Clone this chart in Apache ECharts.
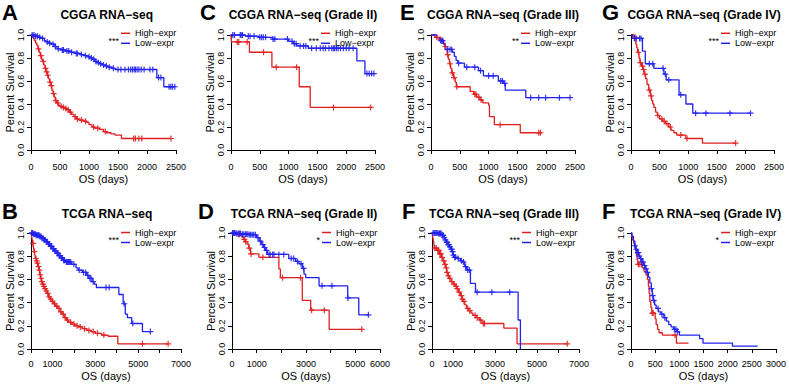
<!DOCTYPE html>
<html><head><meta charset="utf-8">
<script src="https://cdn.jsdelivr.net/npm/echarts@6/dist/echarts.min.js"></script>
<style>html,body{margin:0;padding:0;background:#fff}#c{width:789px;height:384px}</style>
</head><body><div id="c"></div>
<script>
// ---------- DATA (days, survival) ----------
const seriesNames = ['High−expr', 'Low−expr'];

// A: CGGA RNA-seq
const aHighSteps = [[0,1],[20,0.99],[40,0.97],[60,0.95],[80,0.93],[100,0.91],[120,0.88],[140,0.85],[160,0.82],[180,0.79],[200,0.77],[220,0.74],[240,0.71],[260,0.68],[280,0.65],[300,0.62],[320,0.59],[340,0.56],[360,0.52],[380,0.49],[400,0.46],[420,0.43],[440,0.41],[470,0.39],[500,0.38],[540,0.37],[580,0.36],[620,0.35],[660,0.33],[700,0.31],[740,0.29],[780,0.27],[830,0.26],[900,0.25],[960,0.24],[1000,0.22],[1050,0.2],[1100,0.19],[1180,0.18],[1250,0.16],[1300,0.15],[1380,0.14],[1450,0.13],[1560,0.1],[2414,0.1]];
const aHighCens = [[130,0.88],[170,0.82],[210,0.77],[250,0.71],[270,0.68],[290,0.65],[330,0.59],[350,0.56],[390,0.49],[430,0.43],[460,0.41],[520,0.38],[560,0.37],[600,0.36],[640,0.35],[680,0.33],[760,0.29],[800,0.27],[870,0.26],[940,0.25],[1080,0.2],[1150,0.19],[1280,0.16],[1770,0.1],[1800,0.1],[1860,0.1],[1910,0.1],[2414,0.1]];
const aLowSteps = [[0,1],[60,0.99],[130,0.98],[180,0.97],[230,0.95],[260,0.94],[300,0.93],[350,0.92],[400,0.9],[450,0.88],[520,0.87],[600,0.86],[680,0.85],[760,0.84],[850,0.83],[920,0.82],[980,0.81],[1020,0.8],[1060,0.79],[1100,0.77],[1140,0.76],[1180,0.75],[1230,0.74],[1280,0.73],[1330,0.72],[1400,0.71],[1450,0.7],[2170,0.63],[2290,0.55],[2480,0.55]];
const aLowCens = [[20,1],[50,1],[80,0.99],[110,0.99],[150,0.98],[200,0.97],[280,0.94],[320,0.93],[380,0.92],[420,0.9],[470,0.88],[540,0.87],[560,0.87],[620,0.86],[650,0.86],[700,0.85],[780,0.84],[800,0.84],[870,0.83],[940,0.82],[1000,0.81],[1040,0.8],[1080,0.79],[1120,0.77],[1160,0.76],[1200,0.75],[1250,0.74],[1300,0.73],[1350,0.72],[1420,0.71],[1500,0.7],[1550,0.7],[1620,0.7],[1680,0.7],[1720,0.7],[1750,0.7],[1780,0.7],[1800,0.7],[1830,0.7],[1860,0.7],[1900,0.7],[1950,0.7],[2050,0.7],[2100,0.7],[2200,0.63],[2240,0.63],[2380,0.55],[2410,0.55],[2440,0.55],[2480,0.55]];

// C: CGGA RNA-seq (Grade II)
const cHighSteps = [[0,1],[8,0.94],[320,0.85],[710,0.72],[1185,0.55],[1375,0.37],[2425,0.37]];
const cHighCens = [[110,0.94],[135,0.94],[280,0.94],[565,0.85],[785,0.72],[1140,0.72],[1780,0.37],[2425,0.37]];
const cLowSteps = [[0,1],[250,0.99],[480,0.98],[720,0.965],[1000,0.945],[1080,0.925],[1140,0.905],[1340,0.885],[2185,0.775],[2325,0.665],[2480,0.665]];
const cLowCens = [[30,1],[60,1],[160,1],[175,1],[200,1],[300,0.99],[330,0.99],[400,0.99],[500,0.98],[530,0.98],[560,0.98],[600,0.98],[730,0.965],[760,0.965],[980,0.965],[1060,0.945],[1100,0.925],[1130,0.925],[1200,0.905],[1260,0.905],[1300,0.905],[1400,0.885],[1480,0.885],[1550,0.885],[1600,0.885],[1640,0.885],[1700,0.885],[1750,0.885],[1780,0.885],[1800,0.885],[1830,0.885],[1860,0.885],[1900,0.885],[1950,0.885],[2000,0.885],[2050,0.885],[2120,0.885],[2360,0.665],[2400,0.665],[2440,0.665],[2480,0.665]];

// E: CGGA RNA-seq (Grade III)
const eHighSteps = [[0,1],[70,0.98],[150,0.96],[200,0.93],[240,0.9],[260,0.87],[280,0.83],[300,0.79],[320,0.75],[340,0.71],[360,0.67],[390,0.63],[420,0.59],[440,0.55],[680,0.51],[740,0.485],[790,0.46],[850,0.435],[900,0.41],[1000,0.39],[1015,0.29],[1100,0.22],[1550,0.15],[1920,0.15]];
const eHighCens = [[100,0.98],[170,0.96],[250,0.9],[290,0.83],[330,0.75],[370,0.67],[400,0.63],[450,0.55],[760,0.485],[780,0.485],[830,0.46],[870,0.435],[1200,0.22],[1870,0.15],[1900,0.15]];
const eLowSteps = [[0,1],[100,0.975],[160,0.95],[215,0.92],[245,0.875],[370,0.85],[405,0.815],[435,0.78],[465,0.755],[580,0.72],[825,0.69],[910,0.645],[1170,0.6],[1255,0.58],[1290,0.52],[1645,0.455],[2415,0.455]];
const eLowCens = [[170,0.95],[190,0.95],[205,0.95],[290,0.875],[330,0.875],[360,0.875],[480,0.755],[620,0.72],[760,0.72],[860,0.69],[1000,0.645],[1080,0.645],[1210,0.6],[1240,0.6],[1280,0.58],[1730,0.455],[1870,0.455],[1990,0.455],[2230,0.455],[2415,0.455]];

// G: CGGA RNA-seq (Grade IV)
const gHighSteps = [[0,1],[55,0.98],[85,0.92],[100,0.89],[115,0.85],[140,0.8],[155,0.76],[185,0.73],[205,0.7],[230,0.66],[255,0.62],[280,0.57],[310,0.52],[340,0.47],[360,0.43],[380,0.4],[400,0.37],[430,0.33],[460,0.3],[500,0.27],[550,0.25],[600,0.23],[660,0.2],[700,0.17],[750,0.15],[800,0.13],[960,0.1],[1250,0.06],[1830,0.06]];
const gHighCens = [[70,0.98],[130,0.85],[165,0.76],[200,0.73],[220,0.7],[245,0.66],[320,0.52],[350,0.47],[470,0.3],[540,0.27],[580,0.25],[630,0.23],[690,0.2],[870,0.13],[980,0.1],[1830,0.06]];
const gLowSteps = [[0,1],[30,0.97],[200,0.86],[250,0.75],[400,0.71],[575,0.66],[615,0.61],[840,0.48],[960,0.4],[1080,0.32],[2090,0.32]];
const gLowCens = [[60,0.97],[90,0.97],[150,0.97],[175,0.97],[320,0.75],[380,0.75],[560,0.71],[600,0.66],[660,0.61],[870,0.48],[1130,0.32],[1310,0.32],[1730,0.32],[2090,0.32]];

// B: TCGA RNA-seq
const bHighSteps = [[0,1],[30,0.97],[60,0.94],[90,0.91],[120,0.87],[150,0.84],[180,0.81],[210,0.78],[250,0.76],[290,0.74],[330,0.71],[370,0.68],[410,0.64],[450,0.61],[490,0.58],[530,0.56],[580,0.54],[630,0.52],[690,0.5],[750,0.48],[820,0.45],[900,0.43],[980,0.41],[1060,0.39],[1150,0.37],[1250,0.35],[1350,0.32],[1450,0.3],[1550,0.27],[1650,0.25],[1760,0.23],[1900,0.215],[2050,0.2],[2200,0.19],[2400,0.175],[2600,0.16],[2800,0.15],[3000,0.135],[3300,0.12],[3600,0.11],[4050,0.045],[6400,0.045]];
const bHighCens = [[100,0.91],[160,0.84],[230,0.78],[270,0.76],[300,0.74],[350,0.71],[390,0.68],[430,0.64],[470,0.61],[510,0.58],[560,0.56],[600,0.54],[660,0.52],[720,0.5],[780,0.48],[850,0.45],[920,0.43],[1000,0.41],[1100,0.39],[1200,0.37],[1300,0.35],[1400,0.32],[1500,0.3],[1600,0.27],[1700,0.25],[1850,0.23],[2000,0.215],[2150,0.2],[2300,0.19],[2500,0.175],[2700,0.16],[2900,0.15],[3100,0.135],[3400,0.12],[5200,0.045],[6400,0.045]];
const bLowSteps = [[0,1],[100,0.99],[250,0.98],[400,0.97],[500,0.955],[600,0.94],[700,0.925],[800,0.905],[900,0.885],[1000,0.865],[1100,0.845],[1200,0.825],[1300,0.805],[1400,0.785],[1500,0.765],[1600,0.75],[1900,0.73],[2100,0.7],[2200,0.68],[2400,0.66],[2600,0.635],[2700,0.61],[2850,0.58],[2950,0.56],[3050,0.53],[4100,0.47],[4300,0.39],[4400,0.3],[4500,0.27],[4700,0.22],[5200,0.15],[5570,0.15]];
const bLowCens = [[30,1],[60,1],[90,1],[130,0.99],[170,0.99],[210,0.99],[260,0.98],[300,0.98],[340,0.98],[380,0.98],[420,0.97],[460,0.97],[520,0.955],[560,0.955],[620,0.94],[660,0.94],[720,0.925],[760,0.925],[820,0.905],[860,0.905],[920,0.885],[960,0.885],[1020,0.865],[1060,0.865],[1120,0.845],[1160,0.845],[1220,0.825],[1260,0.825],[1320,0.805],[1360,0.805],[1420,0.785],[1460,0.785],[1520,0.765],[1560,0.765],[1650,0.75],[1700,0.75],[1750,0.75],[1800,0.75],[1850,0.75],[2000,0.73],[2250,0.68],[2450,0.66],[2550,0.66],[2650,0.635],[2750,0.61],[2800,0.61],[2900,0.58],[3500,0.53],[3650,0.53],[4350,0.39],[4750,0.22],[5570,0.15]];

// D: TCGA RNA-seq (Grade II)
const dHighSteps = [[0,1],[200,0.99],[400,0.965],[470,0.945],[540,0.925],[610,0.905],[680,0.87],[750,0.82],[1090,0.79],[1900,0.69],[1960,0.615],[2850,0.42],[3190,0.335],[3940,0.17],[5260,0.17]];
const dHighCens = [[100,1],[250,0.99],[300,0.99],[500,0.945],[560,0.925],[700,0.87],[770,0.82],[1250,0.79],[2050,0.615],[2780,0.615],[3230,0.335],[3740,0.335],[5260,0.17]];
const dLowSteps = [[0,1],[150,0.995],[400,0.99],[700,0.985],[1000,0.96],[1100,0.93],[1200,0.9],[1280,0.875],[1350,0.85],[1430,0.815],[2300,0.78],[2580,0.755],[2720,0.735],[2850,0.695],[2920,0.645],[2990,0.615],[3530,0.545],[4690,0.44],[5140,0.295],[5530,0.295]];
const dLowCens = [[20,1],[50,1],[80,1],[120,1],[180,0.995],[250,0.995],[300,0.995],[350,0.995],[420,0.99],[480,0.99],[550,0.99],[600,0.99],[650,0.99],[720,0.985],[760,0.985],[820,0.985],[880,0.985],[950,0.985],[1050,0.96],[1150,0.93],[1250,0.9],[1320,0.875],[1400,0.85],[1500,0.815],[1550,0.815],[1650,0.815],[1700,0.815],[1900,0.815],[2100,0.815],[2400,0.78],[2500,0.78],[2650,0.755],[2800,0.735],[2900,0.695],[3650,0.545],[4050,0.545],[4700,0.44],[5530,0.295]];

// F: TCGA RNA-seq (Grade III)
const fHighSteps = [[0,1],[30,0.97],[60,0.94],[90,0.91],[120,0.87],[250,0.85],[350,0.82],[450,0.79],[520,0.76],[600,0.73],[650,0.7],[700,0.66],[760,0.63],[800,0.61],[900,0.58],[1000,0.56],[1100,0.54],[1180,0.52],[1250,0.49],[1350,0.46],[1420,0.43],[1480,0.41],[1560,0.38],[1650,0.35],[1750,0.33],[1850,0.31],[1950,0.29],[2100,0.27],[2250,0.25],[2380,0.22],[3420,0.18],[4050,0.045],[6440,0.045]];
const fHighCens = [[130,0.87],[200,0.87],[280,0.85],[320,0.85],[380,0.82],[420,0.82],[480,0.79],[560,0.76],[620,0.73],[680,0.7],[720,0.66],[780,0.63],[850,0.61],[950,0.58],[1050,0.56],[1150,0.54],[1200,0.52],[1300,0.49],[1400,0.46],[1450,0.43],[1520,0.41],[1700,0.35],[1800,0.33],[2050,0.29],[2150,0.27],[2300,0.25],[2450,0.22],[2500,0.22],[6440,0.045]];
const fLowSteps = [[0,1],[300,0.995],[480,0.98],[560,0.96],[620,0.94],[680,0.92],[760,0.9],[830,0.88],[900,0.86],[960,0.84],[1000,0.81],[1050,0.79],[1200,0.78],[1350,0.76],[1450,0.75],[1560,0.71],[1650,0.68],[1830,0.565],[2070,0.49],[4100,0.25],[4210,0]];
const fLowCens = [[50,1],[100,1],[150,1],[200,1],[250,1],[320,0.995],[360,0.995],[400,0.995],[440,0.995],[500,0.98],[530,0.98],[580,0.96],[640,0.94],[700,0.92],[720,0.92],[780,0.9],[800,0.9],[850,0.88],[920,0.86],[940,0.86],[980,0.84],[1020,0.81],[1080,0.79],[1120,0.79],[1250,0.78],[1400,0.76],[1500,0.75],[1600,0.71],[1700,0.68],[1780,0.68],[2150,0.49],[2850,0.49],[3700,0.49]];

// F: TCGA RNA-seq (Grade IV)
const hHighSteps = [[0,1],[15,0.97],[35,0.94],[55,0.91],[75,0.88],[95,0.85],[110,0.81],[125,0.77],[140,0.73],[230,0.7],[270,0.67],[310,0.64],[340,0.6],[360,0.54],[375,0.48],[390,0.41],[410,0.36],[430,0.31],[500,0.26],[520,0.21],[550,0.17],[580,0.14],[650,0.12],[940,0.05],[1190,0.05]];
const hHighCens = [[150,0.73],[170,0.73],[210,0.73],[440,0.31],[460,0.31],[910,0.12]];
const hLowSteps = [[0,1],[20,0.97],[50,0.93],[80,0.89],[100,0.86],[130,0.83],[160,0.8],[190,0.78],[220,0.75],[260,0.72],[300,0.69],[330,0.66],[360,0.62],[390,0.57],[420,0.52],[440,0.46],[460,0.42],[490,0.38],[520,0.35],[570,0.32],[620,0.3],[680,0.27],[730,0.24],[780,0.21],[830,0.19],[880,0.17],[950,0.15],[1000,0.12],[1420,0.09],[1490,0.05],[2100,0.025],[2620,0.025]];
const hLowCens = [[80,0.89],[110,0.86],[140,0.83],[150,0.83],[170,0.8],[200,0.78],[230,0.75],[250,0.75],[280,0.72],[310,0.69],[340,0.66],[420,0.52],[450,0.46],[470,0.42],[560,0.35],[640,0.3],[700,0.27],[900,0.17],[930,0.17],[960,0.15]];

// tick labels
const xTicks2500 = [0,500,1000,1500,2000,2500];
const xTicks7000 = [0,1000,3000,5000,7000];
const xTicks6000 = [0,1000,3000,5000,6000];
const xTicks3000 = [0,500,1000,1500,2000,2500,3000];
const yTicks = [0,0.2,0.4,0.6,0.8,1.0];

const panels = [
  {letter:'A', title:'CGGA RNA−seq', stars:'***', hs:aHighSteps, hc:aHighCens, ls:aLowSteps, lc:aLowCens, xt:xTicks2500, xi:500},
  {letter:'C', title:'CGGA RNA−seq (Grade II)', stars:'***', hs:cHighSteps, hc:cHighCens, ls:cLowSteps, lc:cLowCens, xt:xTicks2500, xi:500},
  {letter:'E', title:'CGGA RNA−seq (Grade III)', stars:'**', hs:eHighSteps, hc:eHighCens, ls:eLowSteps, lc:eLowCens, xt:xTicks2500, xi:500},
  {letter:'G', title:'CGGA RNA−seq (Grade IV)', stars:'***', hs:gHighSteps, hc:gHighCens, ls:gLowSteps, lc:gLowCens, xt:xTicks2500, xi:500},
  {letter:'B', title:'TCGA RNA−seq', stars:'***', hs:bHighSteps, hc:bHighCens, ls:bLowSteps, lc:bLowCens, xt:xTicks7000, xi:1000},
  {letter:'D', title:'TCGA RNA−seq (Grade II)', stars:'*', hs:dHighSteps, hc:dHighCens, ls:dLowSteps, lc:dLowCens, xt:xTicks6000, xi:1000},
  {letter:'F', title:'TCGA RNA−seq (Grade III)', stars:'***', hs:fHighSteps, hc:fHighCens, ls:fLowSteps, lc:fLowCens, xt:xTicks7000, xi:1000},
  {letter:'F', title:'TCGA RNA−seq (Grade IV)', stars:'*', hs:hHighSteps, hc:hHighCens, ls:hLowSteps, lc:hLowCens, xt:xTicks3000, xi:500}
];

// ---------- LAYOUT / STYLE ----------
const frames = [
  {left:31, top:35, w:145, h:115, off:8, tx:106.7, ty:15.3, lx:2, ly:12.3, legTop:28.3, starY:41},
  {left:231, top:35, w:144, h:115, off:8, tx:303, ty:15.3, lx:200, ly:12.3, legTop:28.3, starY:41},
  {left:431, top:35, w:144, h:115, off:8, tx:503, ty:15.3, lx:400, ly:12.3, legTop:28.3, starY:41},
  {left:631, top:35, w:143, h:115, off:8, tx:704, ty:15.3, lx:602, ly:12.3, legTop:28.3, starY:41},
  {left:31, top:233, w:150, h:116, off:6, tx:107, ty:213.8, lx:2, ly:211, legTop:227.5, starY:240},
  {left:232, top:233, w:148, h:116, off:6, tx:304, ty:213.8, lx:198, ly:211, legTop:227.5, starY:240},
  {left:432, top:233, w:147, h:116, off:6, tx:504, ty:213.8, lx:402, ly:211, legTop:227.5, starY:240},
  {left:631, top:233, w:148, h:116, off:6, tx:705.5, ty:213.8, lx:602, ly:211, legTop:227.5, starY:240}
];
const RED = '#e02020', BLUE = '#2222f0';
const FONT = '"Liberation Sans", Arial, Helvetica, sans-serif';
const PLUS = 'path://M2,0H3V2H5V3H3V5H2V3H0V2H2Z';

const grid = [], xAxis = [], yAxis = [], series = [], legend = [], graphic = [];
panels.forEach((p, i) => {
  const f = frames[i];
  grid.push({left:f.left, top:f.top, width:f.w, height:f.h, containLabel:false});
  const shown = p.xt;
  xAxis.push({
    gridIndex:i, type:'value', min:0, max:shown[shown.length-1], interval:p.xi, offset:f.off,
    axisLine:{show:true, lineStyle:{color:'#000', width:1}},
    axisTick:{show:true, length:4, lineStyle:{color:'#000', width:1}},
    splitLine:{show:false},
    axisLabel:{fontSize:9, color:'#000', fontFamily:FONT, margin:4,
      formatter:v => shown.indexOf(v) >= 0 ? String(v) : ''},
    name:'OS (days)', nameLocation:'middle', nameGap:15,
    nameTextStyle:{fontSize:11, color:'#000', fontFamily:FONT}
  });
  yAxis.push({
    gridIndex:i, type:'value', min:yTicks[0], max:yTicks[yTicks.length-1], interval:0.2,
    axisLine:{show:true, lineStyle:{color:'#000', width:1}},
    axisTick:{show:true, length:4, lineStyle:{color:'#000', width:1}},
    splitLine:{show:false},
    axisLabel:{fontSize:9, color:'#000', fontFamily:FONT, rotate:90, margin:6,
      formatter:v => v.toFixed(1)},
    name:'Percent Survival', nameLocation:'middle', nameGap:14,
    nameTextStyle:{fontSize:11, color:'#000', fontFamily:FONT}
  });
  [[p.hs, p.hc, RED, seriesNames[0]], [p.ls, p.lc, BLUE, seriesNames[1]]].forEach(([st, ce, col, nm]) => {
    series.push({type:'line', name:nm, xAxisIndex:i, yAxisIndex:i, data:st, step:'end',
      showSymbol:false, symbol:'none', color:col, lineStyle:{color:col, width:1.3},
      clip:false, silent:true, z:2});
    series.push({type:'scatter', xAxisIndex:i, yAxisIndex:i, data:ce, symbol:PLUS,
      symbolSize:6, itemStyle:{color:col, opacity:0.9}, clip:false, silent:true, z:3});
  });
  legend.push({left:f.left + 90, top:f.legTop, orient:'vertical', padding:0, itemGap:0,
    itemWidth:9, itemHeight:1.5, icon:'rect', selectedMode:false, data:seriesNames,
    textStyle:{fontSize:9, color:'#000', fontFamily:FONT, lineHeight:10, padding:0}});
  graphic.push({type:'text', x:f.lx, y:f.ly, silent:true,
    style:{text:p.letter, fill:'#000', font:'bold 22px ' + FONT, textAlign:'left', align:'left', textVerticalAlign:'middle', verticalAlign:'middle'}});
  graphic.push({type:'text', x:f.tx, y:f.ty, silent:true,
    style:{text:p.title, fill:'#000', font:'bold 12px ' + FONT, textAlign:'center', align:'center', textVerticalAlign:'middle', verticalAlign:'middle'}});
  graphic.push({type:'text', x:f.left + 88, y:f.starY, silent:true,
    style:{text:p.stars, fill:'#000', font:'9px ' + FONT, textAlign:'right', align:'right', textVerticalAlign:'middle', verticalAlign:'middle'}});
});

const chart = echarts.init(document.getElementById('c'), null, {renderer:'svg', width:789, height:384});
chart.setOption({animation:false, backgroundColor:'#fff', grid, xAxis, yAxis, series, legend, graphic});
</script></body></html>
